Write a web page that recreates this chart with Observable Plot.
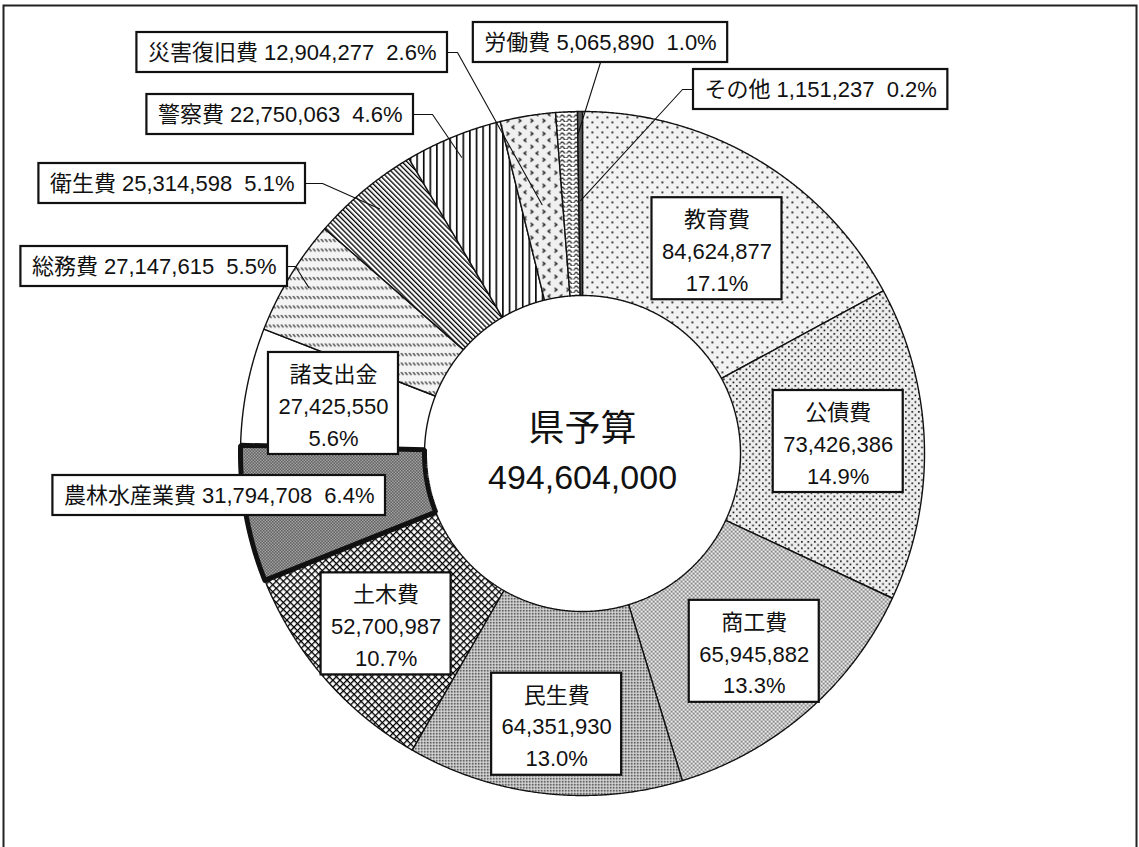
<!DOCTYPE html>
<html><head><meta charset="utf-8">
<script src="https://cdn.jsdelivr.net/npm/d3@7"></script>
<script src="https://cdn.jsdelivr.net/npm/@observablehq/plot@0.6"></script>
<style>
body{margin:0;background:#fff;}
#chart svg{display:block}
</style></head><body>
<svg width="0" height="0" style="position:absolute">
<defs>
  <pattern id="pEdu" width="10" height="10" patternUnits="userSpaceOnUse">
    <rect width="10" height="10" fill="#f2f2f2"/>
    <rect x="1" y="1" width="1.7" height="1.7" fill="#000"/>
    <rect x="6" y="6" width="1.7" height="1.7" fill="#000"/>
  </pattern>
  <pattern id="pKosai" width="6.5" height="6.5" patternUnits="userSpaceOnUse">
    <rect width="6.5" height="6.5" fill="#eeeeee"/>
    <rect x="1" y="1" width="1.6" height="1.6" fill="#000"/>
    <rect x="4.2" y="4.2" width="1.6" height="1.6" fill="#000"/>
  </pattern>
  <pattern id="pShoko" width="4" height="4" patternUnits="userSpaceOnUse">
    <rect width="4" height="4" fill="#eeeeee"/>
    <rect x="0.5" y="0.5" width="1.3" height="1.3" fill="#000"/>
    <rect x="2.5" y="2.5" width="1.3" height="1.3" fill="#000"/>
  </pattern>
  <pattern id="pMinsei" width="3" height="3" patternUnits="userSpaceOnUse">
    <rect width="3" height="3" fill="#e4e4e4"/>
    <rect x="0.5" y="0.5" width="1.5" height="1.5" fill="#000"/>
  </pattern>
  <pattern id="pDoboku" width="5" height="5" patternUnits="userSpaceOnUse" patternTransform="rotate(45)">
    <rect width="5" height="5" fill="#fff"/>
    <rect x="0" y="0" width="1.3" height="5" fill="#000"/>
    <rect x="0" y="0" width="5" height="1.3" fill="#000"/>
  </pattern>
  <pattern id="pNorin" width="3" height="3" patternUnits="userSpaceOnUse">
    <rect width="3" height="3" fill="#ffffff"/>
    <rect x="0" y="0" width="1.5" height="1.5" fill="#000"/>
    <rect x="1.5" y="1.5" width="1.5" height="1.5" fill="#000"/>
  </pattern>
  <pattern id="pSomu" width="4" height="9.5" patternUnits="userSpaceOnUse">
    <rect width="4" height="9.5" fill="#f4f4f4"/>
    <line x1="0.6" y1="1" x2="3" y2="4" stroke="#000" stroke-width="1"/>
  </pattern>
  <pattern id="pEisei" width="3.6" height="3.6" patternUnits="userSpaceOnUse" patternTransform="rotate(-45)">
    <rect width="3.6" height="3.6" fill="#fff"/>
    <rect x="0" y="0" width="1.3" height="3.6" fill="#000"/>
  </pattern>
  <pattern id="pKeisatsu" width="6.6" height="10" patternUnits="userSpaceOnUse">
    <rect width="6.6" height="10" fill="#fff"/>
    <rect x="0" y="0" width="1.6" height="10" fill="#000"/>
  </pattern>
  <pattern id="pSaigai" width="12" height="13" patternUnits="userSpaceOnUse">
    <rect width="12" height="13" fill="#f0f0f0"/>
    <path d="M2,1.5 L4.5,3.2 L2,5" fill="none" stroke="#000" stroke-width="1.1"/>
    <path d="M10,8 L7.5,9.7 L10,11.5" fill="none" stroke="#000" stroke-width="1.1"/>
  </pattern>
  <pattern id="pRodo" width="7" height="4.5" patternUnits="userSpaceOnUse">
    <rect width="7" height="4.5" fill="#fff"/>
    <path d="M0,3.5 Q1.75,0.5 3.5,3.5 T7,3.5" fill="none" stroke="#000" stroke-width="1.1"/>
  </pattern>
</defs>
</svg>
<div id="chart"></div>
<script>
// ---- data ----
const categories = ["教育費","公債費","商工費","民生費","土木費","農林水産業費","諸支出金","総務費","衛生費","警察費","災害復旧費","労働費","その他"];
const amounts = [84624877,73426386,65945882,64351930,52700987,31794708,27425550,27147615,25314598,22750063,12904277,5065890,1151237];
const percents = [17.1,14.9,13.3,13.0,10.7,6.4,5.6,5.5,5.1,4.6,2.6,1.0,0.2];
const centerTitle = "県予算";
const centerTotal = 494604000;

// ---- styles ----
const fills = ["url(#pEdu)","url(#pKosai)","url(#pShoko)","url(#pMinsei)","url(#pDoboku)","url(#pNorin)","#ffffff","url(#pSomu)","url(#pEisei)","url(#pKeisatsu)","url(#pSaigai)","url(#pRodo)","#5a5a5a"];
const highlighted = "農林水産業費";

// ---- layout ----
const W = 1139, H = 847;
const CX = 582, CY = 453, R_OUT = 342, R_IN = 158;
const FONT = '"Liberation Sans", "Noto Sans CJK JP", sans-serif';
const FS = 22;
const insideLayout = {
  "教育費": {r: 245, da: 2.5}, "公債費": {r: 256, da: -1}, "商工費": {r: 262, da: 0},
  "民生費": {r: 272, da: -1}, "土木費": {r: 260, da: 0}, "諸支出金": {r: 254, da: 0}
};
const calloutLayout = [
  {name: "災害復旧費", side: "right", bx: 447, by: 52, elbow: 10, r: 252},
  {name: "警察費", side: "right", bx: 413, by: 114, elbow: 19, r: 320},
  {name: "衛生費", side: "right", bx: 305, by: 183, elbow: 17, r: 318},
  {name: "総務費", side: "right", bx: 287, by: 266, elbow: 8, r: 320},
  {name: "労働費", side: "top", bx: 600, by: 42, r: 318, da: 1.8},
  {name: "その他", side: "left", bx: 693, by: 89, elbow: -11, r: 253},
  {name: "農林水産業費", side: "right", bx: 385, by: 495}
];

const fmt = d3.format(",");
const arcs = d3.pie().sort(null).value(d => d)(amounts);
const pt = (a, r) => ({x: CX + r * Math.sin(a), y: CY - r * Math.cos(a)});
function slicePoints(a0, a1) {
  const n = Math.max(2, Math.ceil((a1 - a0) / 0.004));
  const pts = [];
  for (let k = 0; k <= n; k++) pts.push(pt(a0 + (a1 - a0) * k / n, R_OUT));
  for (let k = n; k >= 0; k--) pts.push(pt(a0 + (a1 - a0) * k / n, R_IN));
  pts.push(pts[0]);
  return pts;
}
const midAngle = i => (arcs[i].startAngle + arcs[i].endAngle) / 2;

// text measuring for callout boxes
const ctx = document.createElement("canvas").getContext("2d");
ctx.font = `${FS}px ${FONT}`;
const measure = s => ctx.measureText(s).width;

// slices
const order = categories.map((c, i) => i).sort((a, b) => (categories[a] === highlighted) - (categories[b] === highlighted));
const sliceMarks = order.map(i => Plot.line(slicePoints(arcs[i].startAngle, arcs[i].endAngle), {
  x: "x", y: "y", fill: fills[i], stroke: "#111",
  strokeWidth: categories[i] === highlighted ? 5 : 1.4, strokeLinejoin: "miter"
}));

// inside labels
const insideData = categories.map((c, i) => ({c, i})).filter(d => insideLayout[d.c]).map(({c, i}) => {
  const L = insideLayout[c];
  const p = pt(midAngle(i) + L.da * Math.PI / 180, L.r);
  return {x: p.x, y: p.y, text: `${c}\n${fmt(amounts[i])}\n${percents[i].toFixed(1)}%`};
});

// callouts
const BH = 40, PAD = 11;
const calloutData = calloutLayout.map(L => {
  const i = categories.indexOf(L.name);
  const text = `${L.name} ${fmt(amounts[i])} \u00a0${percents[i].toFixed(1)}%`;
  const w = measure(text) + 2 * PAD;
  let x1, x2;
  if (L.side === "right") { x2 = L.bx; x1 = L.bx - w; }
  else if (L.side === "left") { x1 = L.bx; x2 = L.bx + w; }
  else { x1 = L.bx - w / 2; x2 = L.bx + w / 2; }
  const d = {x1, x2, y1: L.by - BH / 2, y2: L.by + BH / 2, x: (x1 + x2) / 2, y: L.by, text, leader: null};
  if (L.r) {
    const tgt = pt(midAngle(i) + (L.da || 0) * Math.PI / 180, L.r);
    if (L.side === "top") d.leader = [{x: L.bx, y: L.by + BH / 2}, tgt];
    else {
      const sx = L.side === "right" ? x2 : x1;
      d.leader = [{x: sx, y: L.by}, {x: sx + L.elbow, y: L.by}, tgt];
    }
  }
  return d;
});
const leaderMarks = calloutData.filter(d => d.leader).map(d => Plot.line(d.leader, {x: "x", y: "y", stroke: "#111", strokeWidth: 1.1}));

const centerData = [
  {x: CX, y: CY - 24, text: centerTitle, size: 36},
  {x: CX, y: CY + 25, text: fmt(centerTotal), size: 34}
];

const chart = Plot.plot({
  width: W, height: H,
  marginTop: 0, marginBottom: 0, marginLeft: 0, marginRight: 0,
  x: {domain: [0, W], range: [0, W], axis: null},
  y: {domain: [0, H], range: [0, H], axis: null},
  style: {fontFamily: FONT, background: "white", color: "#111"},
  marks: [
    Plot.frame({stroke: "#222", strokeWidth: 2, insetLeft: 3, insetTop: 5, insetRight: 3, insetBottom: -10}),
    ...sliceMarks,
    ...leaderMarks,
    Plot.rect(insideData, {x1: d => d.x - 65, x2: d => d.x + 65, y1: d => d.y - 51, y2: d => d.y + 51, fill: "white", stroke: "#111", strokeWidth: 2.2}),
    Plot.text(insideData, {x: "x", y: "y", text: "text", fontSize: FS, lineHeight: 1.45, fill: "#111", fontFamily: FONT}),
    Plot.rect(calloutData, {x1: "x1", x2: "x2", y1: "y1", y2: "y2", fill: "white", stroke: "#111", strokeWidth: 2.2}),
    Plot.text(calloutData, {x: "x", y: "y", text: "text", fontSize: FS, fill: "#111", fontFamily: FONT}),
    Plot.text(centerData.slice(0, 1), {x: "x", y: "y", text: "text", fontSize: 36, fill: "#111", fontFamily: FONT}),
    Plot.text(centerData.slice(1), {x: "x", y: "y", text: "text", fontSize: 34, fill: "#111", fontFamily: FONT})
  ]
});
document.getElementById("chart").appendChild(chart);
</script>
</body></html>
